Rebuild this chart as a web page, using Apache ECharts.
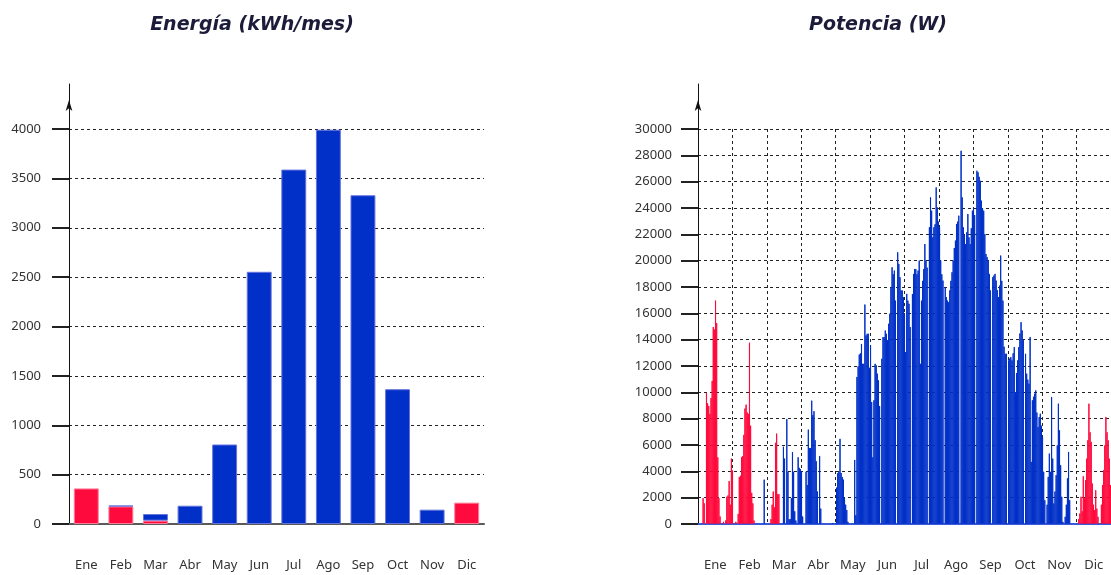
<!DOCTYPE html>
<html>
<head>
<meta charset="utf-8">
<script src="https://cdn.jsdelivr.net/npm/echarts@6/dist/echarts.min.js"></script>
<style>
html, body { margin: 0; padding: 0; background: #ffffff; }
#chart { width: 1111px; height: 575px; }
</style>
</head>
<body>
<div id="chart"></div>
<script>
// meses del eje x
var meses = ['Ene', 'Feb', 'Mar', 'Abr', 'May', 'Jun', 'Jul', 'Ago', 'Sep', 'Oct', 'Nov', 'Dic'];

// energía mensual (kWh/mes): parte roja abajo, parte azul apilada encima
var energiaRoja = [360, 178, 34, 0, 0, 0, 0, 0, 0, 0, 0, 216];
var energiaAzul = [0, 8, 67, 185, 805, 2554, 3589, 3993, 3329, 1365, 145, 0];

// potencia (W), un valor de pico por día
var potEne = [0, 0, 0, 0, 2000, 1600, 0, 10000, 9200, 9000, 8400, 9600, 10900, 15000, 14800, 17000, 15300, 5100, 2000, 600, 0, 0, 200, 0, 300, 2100, 2200, 3300, 1500, 5000, 4100];
var potFeb = [0, 0, 200, 0, 800, 3600, 3700, 5100, 5200, 6800, 8800, 9100, 8500, 8400, 13800, 7500, 2400, 1600, 300, 0, 0, 0, 0, 0, 0, 0, 0, 3400];
var potMar = [0, 0, 0, 0, 0, 400, 1500, 2500, 1300, 6200, 6900, 2300, 2300, 0, 0, 0, 5900, 5000, 0, 8000, 4000, 400, 400, 2000, 5500, 4000, 1000, 300, 0, 5100, 4300];
var potAbr = [4200, 4000, 600, 0, 0, 4000, 3000, 7200, 5800, 5800, 9400, 8300, 8600, 6400, 4800, 2500, 0, 5200, 1200, 0, 0, 0, 0, 0, 0, 0, 0, 0, 100, 100];
var potMay = [0, 100, 2800, 3900, 4000, 6500, 3900, 3600, 3400, 2000, 1500, 1100, 200, 0, 0, 0, 0, 0, 4900, 700, 11200, 12000, 12900, 13000, 13700, 12200, 12200, 16700, 14350, 14480, 14480];
var potJun = [11900, 13600, 9300, 5100, 9430, 12200, 12080, 11450, 10940, 9000, 0, 12580, 14230, 14230, 14730, 14480, 14000, 15240, 16000, 18020, 19530, 19000, 19280, 17000, 0, 20670, 19790, 18780, 17770, 17770];
var potJul = [17260, 16000, 13090, 17510, 17000, 16760, 14990, 0, 17500, 19030, 19400, 19400, 19000, 19280, 20040, 12200, 17000, 18500, 19400, 21300, 20040, 19500, 0, 22570, 24840, 23830, 21810, 22570, 22800, 25600, 24080];
var potAgo = [23000, 22570, 20040, 19000, 18520, 0, 18020, 17260, 17000, 16880, 17770, 18500, 19150, 20040, 21000, 21560, 22820, 23000, 23450, 0, 28380, 24840, 22570, 22000, 21300, 22190, 23580, 21810, 21300, 22500, 23830];
var potSep = [24080, 23500, 0, 26860, 26740, 26400, 26100, 24590, 24000, 23830, 22060, 20540, 20300, 20040, 19030, 17770, 0, 18780, 18900, 19030, 18520, 17800, 17260, 18140, 20420, 18500, 17000, 13500, 12960, 12960];
var potOct = [0, 12460, 12600, 12710, 12460, 13000, 13470, 10060, 11500, 12460, 13470, 14500, 15360, 14730, 14000, 0, 12960, 11450, 11000, 10690, 14230, 4750, 9430, 9700, 9930, 10180, 8500, 7400, 8160, 8410, 7500];
var potNov = [6650, 4000, 1840, 0, 1500, 3610, 5380, 4000, 9680, 5000, 1590, 2500, 3740, 6000, 9170, 7150, 4500, 2100, 200, 0, 580, 1500, 3500, 5510, 1840, 0, 0, 0, 0, 0];
var potDic = [0, 0, 400, 830, 2100, 1000, 3660, 2000, 3360, 5000, 6390, 9170, 7000, 6270, 3110, 1500, 1090, 2600, 1200, 580, 0, 0, 1500, 3000, 4120, 6000, 8160, 7000, 6390, 5000, 3000];

// tramos de días del año (inicio y fin incluidos) que salen en rojo
var tramosRojos = [[0, 57], [64, 71], [334, 364]];

var rojo = '#ff0a3c';
var azul = '#0030c8';

var potDias = [].concat(potEne, potFeb, potMar, potAbr, potMay, potJun, potJul, potAgo, potSep, potOct, potNov, potDic);
var dias = [];
var potRoja = [];
var potAzul = [];
potDias.forEach(function (v, i) {
  var esRojo = tramosRojos.some(function (t) { return i >= t[0] && i <= t[1]; });
  dias.push(i);
  potRoja.push(esRojo ? v : 0);
  potAzul.push(esRojo ? 0 : v);
});

// barras de altura cero no se pintan
function sinCeros(arr) {
  return arr.map(function (v) { return v === 0 ? '-' : v; });
}

var chart = echarts.init(document.getElementById('chart'));

var fuente = 'Noto Sans';
var titulo = { fontFamily: 'DejaVu Sans', fontStyle: 'italic', fontWeight: 'bold', fontSize: 19, color: '#1c1c3a' };
var rejilla = { show: true, lineStyle: { color: '#222', type: [3, 3], width: 1 } };
var etiqMes = { color: '#333', fontFamily: fuente, fontSize: 13, margin: 35 };

// sin separador de miles
function numero(v) { return String(v); }

// eje vertical con la flecha por encima del máximo
function ejeFlecha(grid) {
  return {
    type: 'value', gridIndex: grid, min: 0, max: 1,
    axisLine: { show: true, symbol: ['none', 'arrow'], symbolSize: [5, 11], symbolOffset: [0, -16], lineStyle: { color: '#111', width: 1 } },
    axisTick: { show: false }, axisLabel: { show: false }, splitLine: { show: false }
  };
}

var option = {
  animation: false,
  backgroundColor: '#ffffff',
  title: [
    { text: 'Energía (kWh/mes)', left: 247, top: 11, textAlign: 'center', textStyle: titulo },
    { text: 'Potencia (W)', left: 873, top: 11, textAlign: 'center', textStyle: titulo }
  ],
  grid: [
    { left: 69, top: 129, width: 415, height: 395 },
    { left: 69, top: 84, width: 10, height: 45 },
    { left: 698, top: 129, right: -2, height: 395 },
    { left: 698, top: 84, width: 10, height: 45 }
  ],
  xAxis: [
    {
      type: 'category', gridIndex: 0, data: meses, boundaryGap: true,
      axisLine: { lineStyle: { color: '#5a5a5a', width: 2 } },
      axisTick: { show: false }, axisLabel: etiqMes, splitLine: { show: false }
    },
    { type: 'value', gridIndex: 1, show: false },
    {
      type: 'category', gridIndex: 2, data: meses, boundaryGap: true,
      axisLine: { lineStyle: { color: '#3a5ad8', width: 2 } },
      axisTick: { show: false }, axisLabel: etiqMes, splitLine: rejilla
    },
    { type: 'category', gridIndex: 2, data: dias, boundaryGap: true, show: false },
    { type: 'value', gridIndex: 3, show: false }
  ],
  yAxis: [
    {
      type: 'value', gridIndex: 0, min: 0, max: 4000, interval: 500,
      axisLine: { show: true, lineStyle: { color: '#111', width: 1 } },
      axisTick: { show: true, length: 17, lineStyle: { color: '#222', width: 2 } },
      axisLabel: { color: '#333', fontFamily: fuente, fontSize: 13, margin: 28, formatter: numero },
      splitLine: rejilla
    },
    ejeFlecha(1),
    {
      type: 'value', gridIndex: 2, min: 0, max: 30000, interval: 2000,
      axisLine: { show: true, lineStyle: { color: '#111', width: 1 } },
      axisTick: { show: true, length: 17, lineStyle: { color: '#222', width: 2 } },
      axisLabel: { color: '#333', fontFamily: fuente, fontSize: 13, margin: 26, formatter: numero },
      splitLine: rejilla
    },
    ejeFlecha(3)
  ],
  series: [
    {
      name: 'Energía roja', type: 'bar', stack: 'energia', xAxisIndex: 0, yAxisIndex: 0,
      barWidth: '72%', data: sinCeros(energiaRoja),
      itemStyle: { color: rojo, borderColor: '#ff7a98', borderWidth: 1 }
    },
    {
      name: 'Energía azul', type: 'bar', stack: 'energia', xAxisIndex: 0, yAxisIndex: 0,
      barWidth: '72%', data: sinCeros(energiaAzul),
      itemStyle: { color: azul, borderColor: '#6673dc', borderWidth: 1 }
    },
    {
      name: 'Potencia roja', type: 'bar', stack: 'potencia', xAxisIndex: 3, yAxisIndex: 2,
      barWidth: '100%', data: sinCeros(potRoja),
      itemStyle: { color: rojo, borderColor: rojo, borderWidth: 1 }
    },
    {
      name: 'Potencia azul', type: 'bar', stack: 'potencia', xAxisIndex: 3, yAxisIndex: 2,
      barWidth: '100%', data: sinCeros(potAzul),
      itemStyle: { color: azul, borderColor: azul, borderWidth: 1 }
    }
  ]
};

chart.setOption(option);
</script>
</body>
</html>
